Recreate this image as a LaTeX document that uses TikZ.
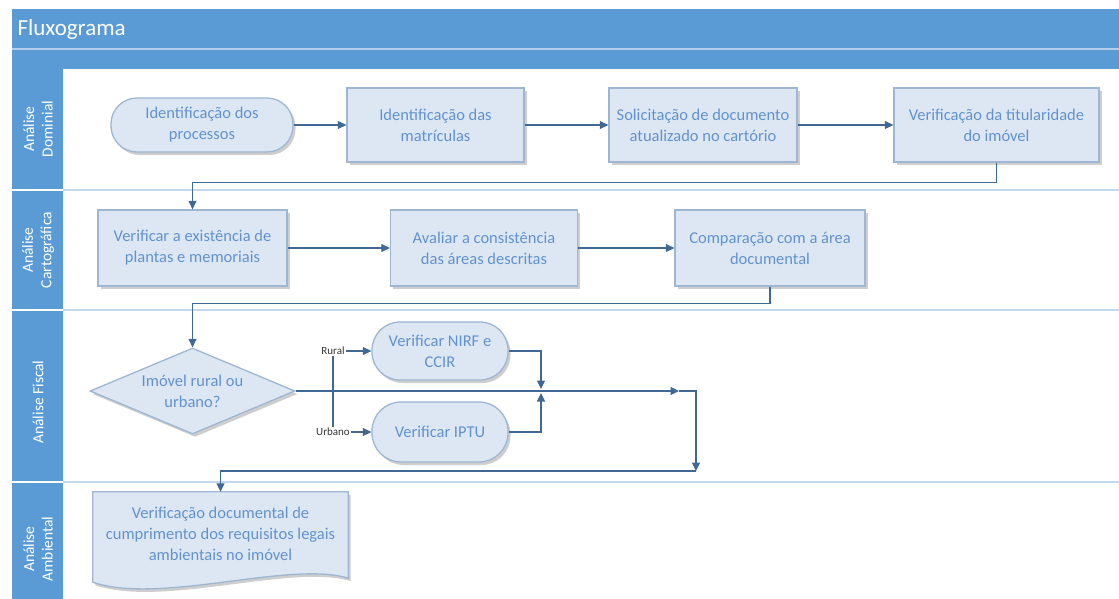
\documentclass[tikz,border=0pt]{standalone}
\usepackage{fontspec}
\setmainfont{Carlito}
\usetikzlibrary{arrows.meta,shapes.geometric,shadows,calc,backgrounds}
\definecolor{hdr}{RGB}{91,155,213}
\definecolor{hdrline}{RGB}{176,204,234}
\definecolor{sepline}{RGB}{196,216,238}
\definecolor{nfill}{RGB}{221,231,243}
\definecolor{nborder}{RGB}{158,182,210}
\definecolor{ntext}{RGB}{98,146,204}
\definecolor{conn}{RGB}{64,104,148}
\begin{document}
\begin{tikzpicture}[x=1pt,y=-1pt,
  txt/.style={font=\fontsize{16.5}{21}\selectfont, text=ntext, align=center, inner sep=0pt},
  shad/.style={drop shadow={shadow xshift=2.5pt, shadow yshift=-3pt, opacity=0.35, fill=black!55}},
  proc/.style={txt, shape=rectangle, draw=nborder, line width=1.3pt, fill=nfill, shad},
  term/.style={proc, rounded corners=#1},
  dec/.style={txt, shape=diamond, draw=nborder, line width=1.3pt, fill=nfill, shad, aspect=2.4},
  link/.style={draw=conn, line width=1.1pt, -{Triangle[length=8.5pt,width=8pt]}},
  lanelab/.style={font=\fontsize{15.5}{18.5}\selectfont, text=white, align=center, rotate=90},
  cond/.style={font=\fontsize{11}{12}\selectfont, text=black!80, fill=white, inner sep=1pt}
]
\useasboundingbox (0,0) rectangle (1119,599);
% header
\fill[hdr] (12,9) rectangle (1119,69);
\draw[hdrline, line width=1.2pt] (12,49) -- (1119,49);
\node[anchor=west, font=\fontsize{23}{26}\selectfont, text=white] (title) at (14,29) {Fluxograma};
% lane column and separators
\fill[hdr] (12,69) rectangle (63,599);
\foreach \yy in {190,310,482} {
  \draw[sepline, line width=1.6pt] (63,\yy) -- (1119,\yy);
  \draw[white, line width=1.6pt] (12,\yy) -- (63,\yy);
}
\node[lanelab] (l1) at (38,129) {Análise\\Dominial};
\node[lanelab] (l2) at (38,250) {Análise\\Cartográfica};
\node[lanelab] (l3) at (38,402) {Análise Fiscal};
\node[lanelab] (l4) at (38,549) {Análise\\Ambiental};

% lane 1
\node[term=26pt, minimum width=182pt, minimum height=54pt] (t1) at (202,125) {Identificação dos\\processos};
\node[proc, minimum width=177pt, minimum height=74pt] (b2) at (435.5,125) {Identificação das\\matrículas};
\node[proc, minimum width=188pt, minimum height=74pt] (b3) at (703,125) {Solicitação de documento\\atualizado no cartório};
\node[proc, minimum width=205pt, minimum height=74pt] (b4) at (996.5,125) {Verificação da titularidade\\do imóvel};

% lane 2
\node[proc, minimum width=189pt, minimum height=76pt] (c1) at (192.5,248) {Verificar a existência de\\plantas e memoriais};
\node[proc, minimum width=187pt, minimum height=76pt] (c2) at (484,248) {Avaliar a consistência\\das áreas descritas};
\node[proc, minimum width=190pt, minimum height=76pt] (c3) at (770,248) {Comparação com a área\\documental};

% lane 3
\node[dec, minimum width=205pt, minimum height=86pt] (d) at (192.5,391) {Imóvel rural ou\\urbano?};
\node[term=28pt, minimum width=136pt, minimum height=58pt] (n1) at (440,351) {Verificar NIRF e\\CCIR};
\node[term=29pt, minimum width=136pt, minimum height=60pt] (n2) at (440,432) {Verificar IPTU};
\coordinate (sp) at (333,391);
\coordinate (m) at (541,391);
\coordinate (a1) at (679,391);
\coordinate (j2) at (696,471);

% lane 4
\node[txt, minimum width=255pt, minimum height=84pt] (doc) at (220.5,534) {Verificação documental de\\cumprimento dos requisitos legais\\ambientais no imóvel};
\begin{scope}[on background layer]
\draw[draw=nborder, line width=1.3pt, fill=nfill, shad]
  (doc.north west) -- (doc.north east) -- ($(doc.south east)+(0,2)$)
  .. controls ($(doc.south east)+(-58,-16)$) and ($(doc.south west)+(67,29)$) .. ($(doc.south west)+(0,6)$) -- cycle;
\end{scope}

% connectors
\draw[link] (t1) -- (b2);
\draw[link] (b2) -- (b3);
\draw[link] (b3) -- (b4);
\draw[link] (b4.south) -- ($(b4.south)+(0,20)$) -| (c1.north);
\draw[link] (c1) -- (c2);
\draw[link] (c2) -- (c3);
\draw[link] (c3.south) -- ($(c3.south)+(0,17)$) -| (d.north);
\draw[link] (d.east) -- (a1);
\draw[link] (a1) -| (j2);
\draw[link] (j2) -| (doc.north);
\draw[link] (sp) |- (n1.west) node[cond, pos=0.5] {Rural};
\draw[link] (sp) |- (n2.west) node[cond, pos=0.5] {Urbano};
\draw[link, shorten >=2pt] (n1.east) -| (m);
\draw[link, shorten >=2pt] (n2.east) -| (m);
\end{tikzpicture}
\end{document}
